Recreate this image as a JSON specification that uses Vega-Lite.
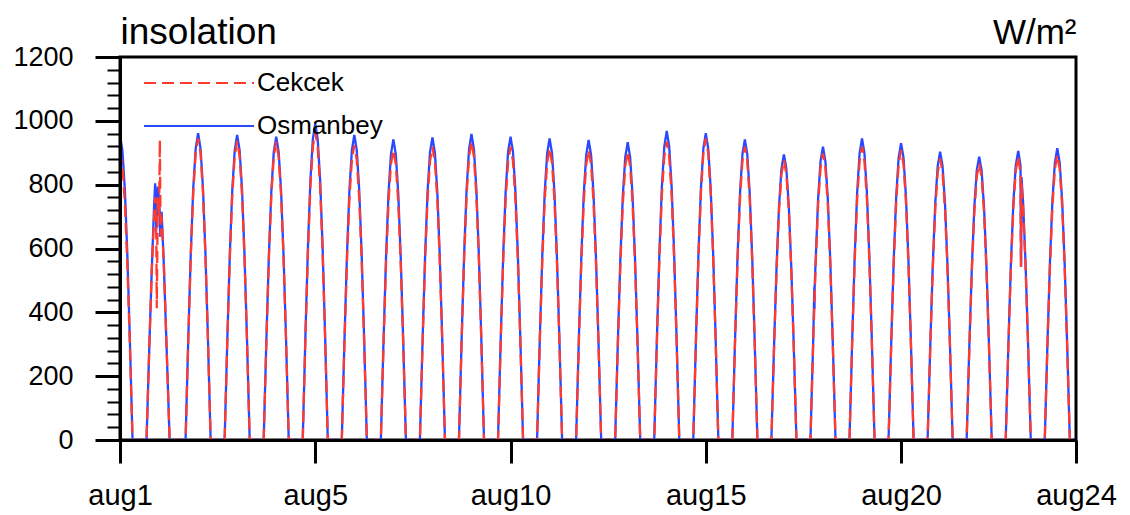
{
"$schema": "https://vega.github.io/schema/vega-lite/v6.json",
"width": 956, "height": 383,
"autosize": "none",
"padding": {"left": 120, "top": 57, "right": 54, "bottom": 75},
"background": "white",
"data": {"values": [
{"t":0,"o":955,"c":905},{"t":1.5,"o":907,"c":860},{"t":3,"o":783,"c":742},{"t":4.5,"o":583,"c":552},{"t":6,"o":325,"c":308},{"t":7.7,"o":0,"c":0},
{"t":16.3,"o":0,"c":0},{"t":18,"o":290,"c":290},{"t":19.5,"o":530,"c":530},{"t":21,"o":740,"c":700},{"t":21.6,"o":804,"c":760},{"t":22.3,"o":660,"c":640},{"t":22.6,"o":700,"c":413},{"t":23.2,"o":794,"c":760},{"t":24,"o":760,"c":700},{"t":24.5,"o":700,"c":940},{"t":24.6,"o":637,"c":860},{"t":25,"o":680,"c":640},{"t":25.6,"o":715,"c":700},{"t":27,"o":540,"c":540},{"t":28.5,"o":310,"c":310},{"t":30.5,"o":0,"c":0},
{"t":40.3,"o":0,"c":0},{"t":42,"o":327,"c":321},{"t":43.5,"o":586,"c":576},{"t":45,"o":788,"c":775},{"t":46.5,"o":913,"c":898},{"t":48,"o":961,"c":945},{"t":49.5,"o":913,"c":898},{"t":51,"o":788,"c":775},{"t":52.5,"o":586,"c":576},{"t":54,"o":327,"c":321},{"t":55.7,"o":0,"c":0},
{"t":64.3,"o":0,"c":0},{"t":66,"o":325,"c":319},{"t":67.5,"o":583,"c":572},{"t":69,"o":784,"c":768},{"t":70.5,"o":908,"c":890},{"t":72,"o":956,"c":937},{"t":73.5,"o":908,"c":890},{"t":75,"o":784,"c":768},{"t":76.5,"o":583,"c":572},{"t":78,"o":325,"c":319},{"t":79.7,"o":0,"c":0},
{"t":88.3,"o":0,"c":0},{"t":90,"o":323,"c":318},{"t":91.5,"o":580,"c":570},{"t":93,"o":779,"c":767},{"t":94.5,"o":903,"c":888},{"t":96,"o":950,"c":935},{"t":97.5,"o":903,"c":888},{"t":99,"o":779,"c":767},{"t":100.5,"o":580,"c":570},{"t":102,"o":323,"c":318},{"t":103.7,"o":0,"c":0},
{"t":112.3,"o":0,"c":0},{"t":114,"o":337,"c":328},{"t":115.5,"o":605,"c":589},{"t":117,"o":813,"c":792},{"t":118.5,"o":942,"c":918},{"t":120,"o":992,"c":966},{"t":121.5,"o":942,"c":918},{"t":123,"o":813,"c":792},{"t":124.5,"o":605,"c":589},{"t":126,"o":337,"c":328},{"t":127.7,"o":0,"c":0},
{"t":136.3,"o":0,"c":0},{"t":138,"o":325,"c":314},{"t":139.5,"o":583,"c":564},{"t":141,"o":784,"c":758},{"t":142.5,"o":908,"c":878},{"t":144,"o":956,"c":924},{"t":145.5,"o":908,"c":878},{"t":147,"o":784,"c":758},{"t":148.5,"o":583,"c":564},{"t":150,"o":325,"c":314},{"t":151.7,"o":0,"c":0},
{"t":160.3,"o":0,"c":0},{"t":162,"o":320,"c":309},{"t":163.5,"o":575,"c":554},{"t":165,"o":772,"c":745},{"t":166.5,"o":895,"c":864},{"t":168,"o":942,"c":909},{"t":169.5,"o":895,"c":864},{"t":171,"o":772,"c":745},{"t":172.5,"o":575,"c":554},{"t":174,"o":320,"c":309},{"t":175.7,"o":0,"c":0},
{"t":184.3,"o":0,"c":0},{"t":186,"o":322,"c":312},{"t":187.5,"o":578,"c":561},{"t":189,"o":777,"c":754},{"t":190.5,"o":901,"c":873},{"t":192,"o":948,"c":919},{"t":193.5,"o":901,"c":873},{"t":195,"o":777,"c":754},{"t":196.5,"o":578,"c":561},{"t":198,"o":322,"c":312},{"t":199.7,"o":0,"c":0},
{"t":208.3,"o":0,"c":0},{"t":210,"o":326,"c":318},{"t":211.5,"o":585,"c":570},{"t":213,"o":786,"c":767},{"t":214.5,"o":911,"c":888},{"t":216,"o":959,"c":935},{"t":217.5,"o":911,"c":888},{"t":219,"o":786,"c":767},{"t":220.5,"o":585,"c":570},{"t":222,"o":326,"c":318},{"t":223.7,"o":0,"c":0},
{"t":232.3,"o":0,"c":0},{"t":234,"o":323,"c":312},{"t":235.5,"o":580,"c":561},{"t":237,"o":779,"c":754},{"t":238.5,"o":903,"c":873},{"t":240,"o":950,"c":919},{"t":241.5,"o":903,"c":873},{"t":243,"o":779,"c":754},{"t":244.5,"o":580,"c":561},{"t":246,"o":323,"c":312},{"t":247.7,"o":0,"c":0},
{"t":256.3,"o":0,"c":0},{"t":258,"o":321,"c":311},{"t":259.5,"o":576,"c":558},{"t":261,"o":775,"c":749},{"t":262.5,"o":898,"c":868},{"t":264,"o":945,"c":914},{"t":265.5,"o":898,"c":868},{"t":267,"o":775,"c":749},{"t":268.5,"o":576,"c":558},{"t":270,"o":321,"c":311},{"t":271.7,"o":0,"c":0},
{"t":280.3,"o":0,"c":0},{"t":282,"o":320,"c":309},{"t":283.5,"o":573,"c":554},{"t":285,"o":771,"c":745},{"t":286.5,"o":893,"c":864},{"t":288,"o":940,"c":909},{"t":289.5,"o":893,"c":864},{"t":291,"o":771,"c":745},{"t":292.5,"o":573,"c":554},{"t":294,"o":320,"c":309},{"t":295.7,"o":0,"c":0},
{"t":304.3,"o":0,"c":0},{"t":306,"o":317,"c":307},{"t":307.5,"o":569,"c":551},{"t":309,"o":765,"c":740},{"t":310.5,"o":886,"c":858},{"t":312,"o":933,"c":903},{"t":313.5,"o":886,"c":858},{"t":315,"o":765,"c":740},{"t":316.5,"o":569,"c":551},{"t":318,"o":317,"c":307},{"t":319.7,"o":0,"c":0},
{"t":328.3,"o":0,"c":0},{"t":330,"o":329,"c":318},{"t":331.5,"o":590,"c":570},{"t":333,"o":794,"c":767},{"t":334.5,"o":920,"c":888},{"t":336,"o":968,"c":935},{"t":337.5,"o":920,"c":888},{"t":339,"o":794,"c":767},{"t":340.5,"o":590,"c":570},{"t":342,"o":329,"c":318},{"t":343.7,"o":0,"c":0},
{"t":352.3,"o":0,"c":0},{"t":354,"o":327,"c":321},{"t":355.5,"o":586,"c":576},{"t":357,"o":788,"c":775},{"t":358.5,"o":913,"c":898},{"t":360,"o":961,"c":945},{"t":361.5,"o":913,"c":898},{"t":363,"o":788,"c":775},{"t":364.5,"o":586,"c":576},{"t":366,"o":327,"c":321},{"t":367.7,"o":0,"c":0},
{"t":376.3,"o":0,"c":0},{"t":378,"o":320,"c":312},{"t":379.5,"o":575,"c":561},{"t":381,"o":772,"c":754},{"t":382.5,"o":895,"c":873},{"t":384,"o":942,"c":919},{"t":385.5,"o":895,"c":873},{"t":387,"o":772,"c":754},{"t":388.5,"o":575,"c":561},{"t":390,"o":320,"c":312},{"t":391.7,"o":0,"c":0},
{"t":400.3,"o":0,"c":0},{"t":402,"o":304,"c":298},{"t":403.5,"o":546,"c":535},{"t":405,"o":734,"c":719},{"t":406.5,"o":850,"c":833},{"t":408,"o":895,"c":877},{"t":409.5,"o":850,"c":833},{"t":411,"o":734,"c":719},{"t":412.5,"o":546,"c":535},{"t":414,"o":304,"c":298},{"t":415.7,"o":0,"c":0},
{"t":424.3,"o":0,"c":0},{"t":426,"o":312,"c":305},{"t":426.7,"o":480,"c":418},{"t":426.8,"o":410,"c":434},{"t":426.9,"o":480,"c":450},{"t":427.5,"o":561,"c":548},{"t":429,"o":754,"c":736},{"t":430.5,"o":873,"c":853},{"t":432,"o":919,"c":898},{"t":433.5,"o":873,"c":853},{"t":435,"o":754,"c":736},{"t":436.5,"o":561,"c":548},{"t":438,"o":312,"c":305},{"t":439.7,"o":0,"c":0},
{"t":448.3,"o":0,"c":0},{"t":450,"o":321,"c":312},{"t":451.5,"o":576,"c":561},{"t":453,"o":775,"c":754},{"t":454.5,"o":898,"c":873},{"t":456,"o":945,"c":919},{"t":457.5,"o":898,"c":873},{"t":459,"o":775,"c":754},{"t":460.5,"o":576,"c":561},{"t":462,"o":321,"c":312},{"t":463.7,"o":0,"c":0},
{"t":472.3,"o":0,"c":0},{"t":474,"o":316,"c":309},{"t":475.5,"o":567,"c":554},{"t":477,"o":763,"c":745},{"t":478.5,"o":884,"c":864},{"t":480,"o":930,"c":909},{"t":481.5,"o":884,"c":864},{"t":483,"o":763,"c":745},{"t":484.5,"o":567,"c":554},{"t":486,"o":316,"c":309},{"t":487.7,"o":0,"c":0},
{"t":496.3,"o":0,"c":0},{"t":498,"o":307,"c":300},{"t":499.5,"o":551,"c":538},{"t":501,"o":740,"c":723},{"t":502.5,"o":858,"c":838},{"t":504,"o":903,"c":882},{"t":505.5,"o":858,"c":838},{"t":507,"o":740,"c":723},{"t":508.5,"o":551,"c":538},{"t":510,"o":307,"c":300},{"t":511.7,"o":0,"c":0},
{"t":520.3,"o":0,"c":0},{"t":522,"o":302,"c":295},{"t":523.5,"o":542,"c":529},{"t":525,"o":728,"c":711},{"t":526.5,"o":844,"c":824},{"t":528,"o":888,"c":867},{"t":529.5,"o":844,"c":824},{"t":531,"o":728,"c":711},{"t":532.5,"o":542,"c":529},{"t":534,"o":302,"c":295},{"t":535.7,"o":0,"c":0},
{"t":544.3,"o":0,"c":0},{"t":546,"o":308,"c":302},{"t":547.5,"o":553,"c":542},{"t":549,"o":743,"c":728},{"t":550.5,"o":861,"c":844},{"t":552,"o":906,"c":888},{"t":553.4,"o":860,"c":836},{"t":553.6,"o":650,"c":543},{"t":553.8,"o":543,"c":620},{"t":554,"o":824,"c":808},{"t":555,"o":743,"c":728},{"t":556.5,"o":553,"c":542},{"t":558,"o":308,"c":302},{"t":559.7,"o":0,"c":0},
{"t":568.3,"o":0,"c":0},{"t":570,"o":311,"c":304},{"t":571.5,"o":558,"c":545},{"t":573,"o":749,"c":732},{"t":574.5,"o":868,"c":848},{"t":576,"o":914,"c":893},{"t":577.5,"o":868,"c":848},{"t":579,"o":749,"c":732},{"t":580.5,"o":558,"c":545},{"t":582,"o":311,"c":304},{"t":583.7,"o":0,"c":0},{"t":587.5,"o":0,"c":0}
]},
"config": {
  "font": "Liberation Sans",
  "view": {"stroke": "black", "strokeWidth": 3},
  "axis": {"domainColor": "black", "domainWidth": 3, "tickColor": "black", "labelColor": "black", "grid": false, "labelFont": "Liberation Sans", "titleFont": "Liberation Sans", "titleFontWeight": "normal", "titleColor": "black"},
  "legend": {"symbolType": "M-5,0H5", "symbolSize": 484, "symbolStrokeWidth": 2, "labelFont": "Liberation Sans", "labelFontSize": 26, "labelColor": "black", "labelOffset": 45, "rowPadding": 17, "padding": 0}
},
"layer": [
  {
    "mark": {"type": "line", "strokeWidth": 2.3},
    "encoding": {
      "x": {"field": "t", "type": "quantitative", "scale": {"domain": [0, 587.5], "nice": false, "zero": false},
            "axis": {"orient": "bottom", "zindex": 2, "values": [0, 120, 240, 360, 480, 587.5], "labelExpr": "datum.value == 0 ? 'aug1' : datum.value == 120 ? 'aug5' : datum.value == 240 ? 'aug10' : datum.value == 360 ? 'aug15' : datum.value == 480 ? 'aug20' : 'aug24'", "tickSize": 23, "tickWidth": 3, "labelFontSize": 29, "labelPadding": 18, "labelAlign": "center", "labelFlush": false, "labelOverlap": false, "labelBound": false, "title": null}},
      "y": {"field": "o", "type": "quantitative", "scale": {"domain": [0, 1200], "nice": false},
            "axis": {"orient": "left", "zindex": 2, "format": "d", "values": [0, 200, 400, 600, 800, 1000, 1200], "tickSize": 25, "tickWidth": 3, "labelFontSize": 27, "labelPadding": 22, "title": null}},
      "color": {"datum": "Osmanbey", "type": "nominal", "scale": {"domain": ["Cekcek", "Osmanbey"], "range": ["#ff3b2f", "#2a48ff"]}, "legend": {"orient": "none", "legendX": 66, "legendY": 13, "title": null}},
      "strokeDash": {"datum": "Osmanbey", "type": "nominal", "scale": {"domain": ["Cekcek", "Osmanbey"], "range": [[12, 6], [1, 0]]}, "legend": {"orient": "none", "legendX": 66, "legendY": 13, "title": null}}
    }
  },
  {
    "mark": {"type": "line", "strokeWidth": 2.3},
    "encoding": {
      "x": {"field": "t", "type": "quantitative", "axis": {"orient": "top", "domain": false, "ticks": false, "labels": false, "title": "insolation", "titleFontSize": 37, "titleAnchor": "start", "titleAlign": "left", "titleBaseline": "alphabetic", "titlePadding": 14}},
      "y": {"field": "c", "type": "quantitative",
            "axis": {"orient": "left", "zindex": 2, "values": [0,40,80,120,160,200,240,280,320,360,400,440,480,520,560,600,640,680,720,760,800,840,880,920,960,1000,1040,1080,1120,1160,1200], "tickSize": 13, "tickWidth": 2, "labels": false, "domain": false, "title": null}},
      "color": {"datum": "Cekcek", "type": "nominal"},
      "strokeDash": {"datum": "Cekcek", "type": "nominal"}
    }
  },
  {
    "mark": {"type": "line", "strokeWidth": 1, "strokeOpacity": 0},
    "encoding": {
      "x": {"field": "t", "type": "quantitative", "axis": {"orient": "top", "domain": false, "ticks": false, "labels": false, "title": "W/m²", "titleFontSize": 35, "titleAnchor": "end", "titleAlign": "right", "titleBaseline": "alphabetic", "titlePadding": 14}},
      "y": {"field": "c", "type": "quantitative", "axis": null}
    }
  }
],
"resolve": {"axis": {"x": "independent", "y": "independent"}}
}
